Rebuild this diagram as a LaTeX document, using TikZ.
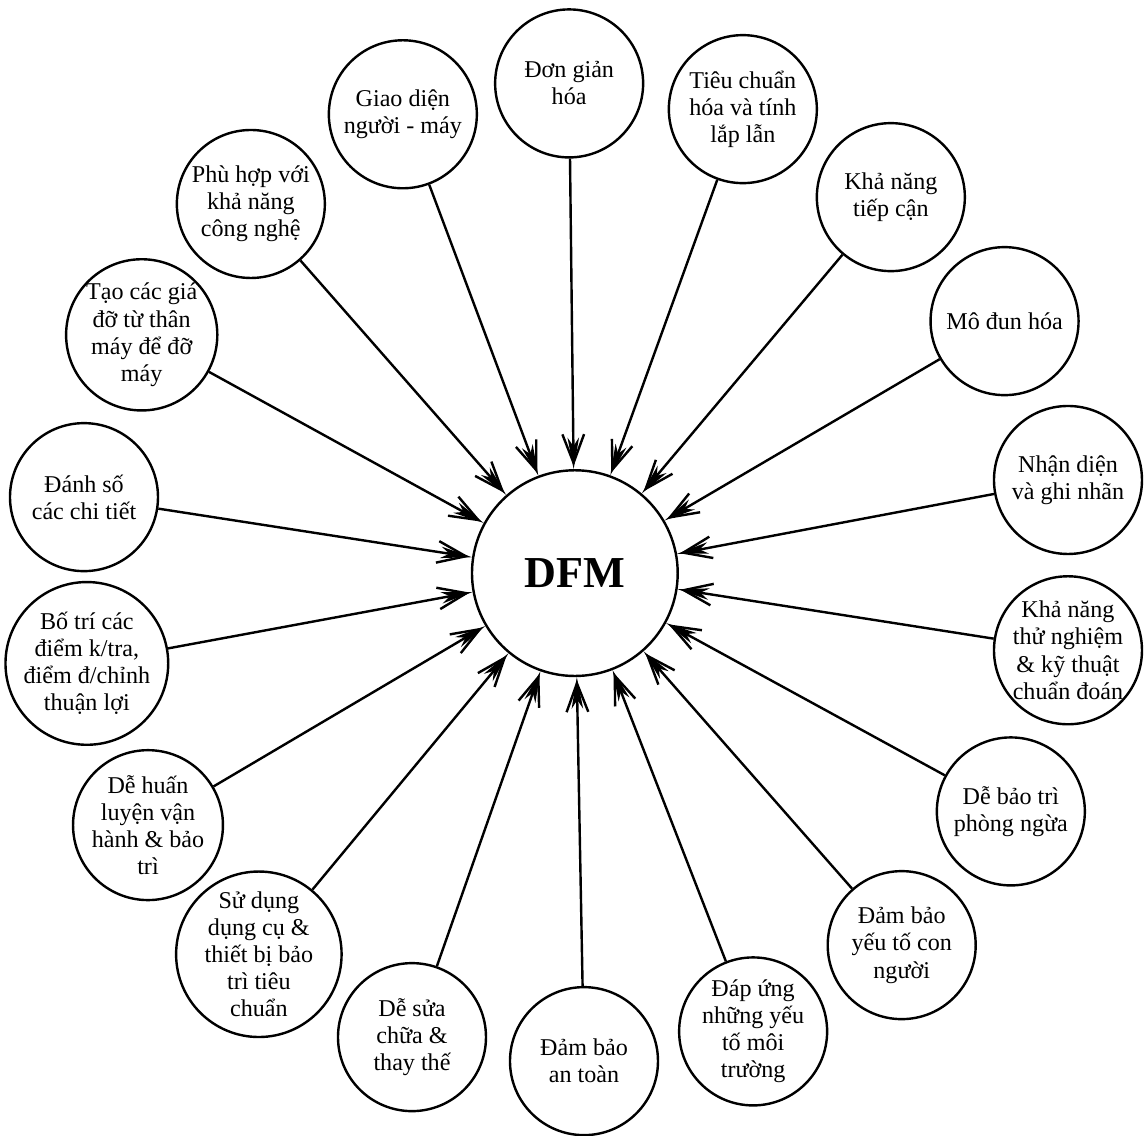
\documentclass[tikz,border=0pt]{standalone}
\usepackage{fontspec}
\setmainfont{Liberation Serif}
\usetikzlibrary{arrows.meta}
\tikzset{
  factor/.style={draw,circle,minimum size=2.59cm,inner sep=0pt,align=center,font=\fontsize{12}{13.5}\selectfont},
  core/.style={draw,circle,minimum size=3.6cm,inner sep=0pt,font=\fontsize{22}{26}\selectfont\bfseries}
}
\begin{document}
\begin{tikzpicture}[>={Straight Barb[length=5mm,width=3.8mm,sep=-5mm]Stealth[length=5.5mm,width=2mm,inset=1.5mm]},line width=1.2pt]
  \useasboundingbox (-10.06,-9.84) rectangle (9.96,10.03);
  \node[core] (dfm) at (0,0) {DFM};

  \node[factor] (simp)   at (-0.10,8.57)  {Đơn giản\\hóa};
  \node[factor] (std)    at (2.94,8.12)   {Tiêu chuẩn\\hóa và tính\\lắp lẫn};
  \node[factor] (access) at (5.53,6.58)   {Khả năng\\tiếp cận};
  \node[factor] (modul)  at (7.52,4.41)   {Mô đun hóa};
  \node[factor] (ident)  at (8.63,1.63)   {Nhận diện\\và ghi nhãn};
  \node[factor] (test)   at (8.63,-1.35)  {Khả năng\\thử nghiệm\\\& kỹ thuật\\chuẩn đoán};
  \node[factor] (prev)   at (7.63,-4.17)  {Dễ bảo trì\\phòng ngừa};
  \node[factor] (human)  at (5.72,-6.51)  {Đảm bảo\\yếu tố con\\người};
  \node[factor] (env)    at (3.12,-8.02)  {Đáp ứng\\những yếu\\tố môi\\trường};
  \node[factor] (safe)   at (0.16,-8.54)  {Đảm bảo\\an toàn};
  \node[factor] (repair) at (-2.85,-8.12) {Dễ sửa\\chữa \&\\thay thế};
  \node[factor] (tools)  at (-5.53,-6.67) {Sử dụng\\dụng cụ \&\\thiết bị bảo\\trì tiêu\\chuẩn};
  \node[factor] (train)  at (-7.47,-4.41) {Dễ huấn\\luyện vận\\hành \& bảo\\trì};
  \node[factor] (check)  at (-8.54,-1.58) {Bố trí các\\điểm k/tra,\\điểm đ/chỉnh\\thuận lợi};
  \node[factor] (numb)   at (-8.59,1.33)  {Đánh số\\các chi tiết};
  \node[factor] (frame)  at (-7.58,4.17)  {Tạo các giá\\đỡ từ thân\\máy để đỡ\\máy};
  \node[factor] (tech)   at (-5.67,6.46)  {Phù hợp với\\khả năng\\công nghệ};
  \node[factor] (hmi)    at (-3.01,8.03)  {Giao diện\\người - máy};

  \draw[->] (simp) -- (dfm);
  \draw[->] (std) -- (dfm);
  \draw[->] (access) -- (dfm);
  \draw[->] (modul) -- (dfm);
  \draw[->] (ident) -- (dfm);
  \draw[->] (test) -- (dfm);
  \draw[->] (prev) -- (dfm);
  \draw[->] (human) -- (dfm);
  \draw[->] (env) -- (dfm);
  \draw[->] (safe) -- (dfm);
  \draw[->] (repair) -- (dfm);
  \draw[->] (tools) -- (dfm);
  \draw[->] (train) -- (dfm);
  \draw[->] (check) -- (dfm);
  \draw[->] (numb) -- (dfm);
  \draw[->] (frame) -- (dfm);
  \draw[->] (tech) -- (dfm);
  \draw[->] (hmi) -- (dfm);
\end{tikzpicture}
\end{document}
